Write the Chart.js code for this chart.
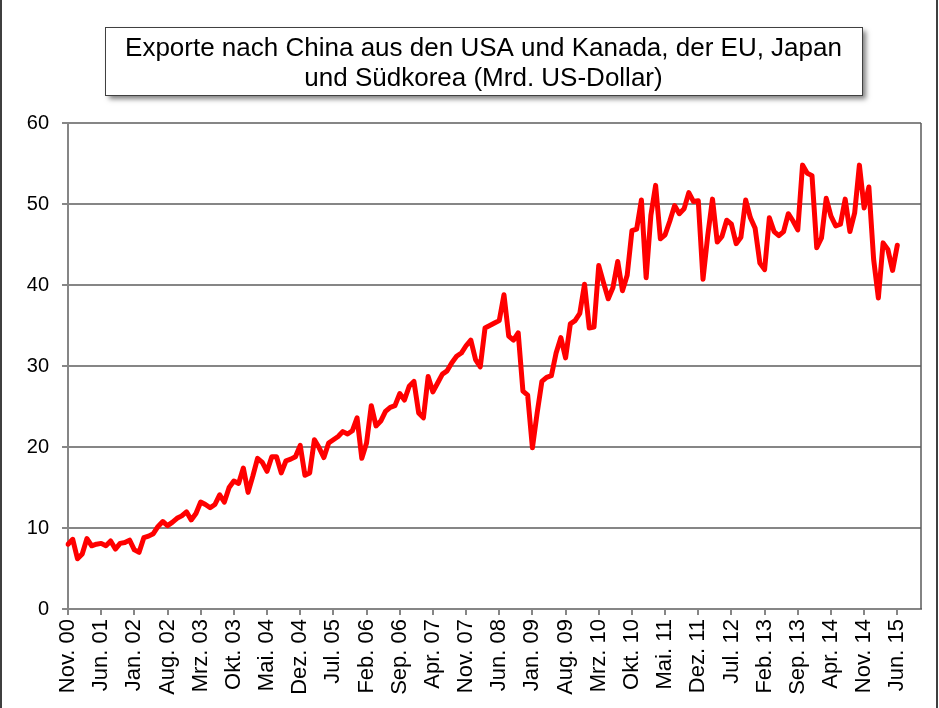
<!DOCTYPE html>
<html>
<head>
<meta charset="utf-8">
<script src="https://cdn.jsdelivr.net/npm/chart.js@4/dist/chart.umd.min.js"></script>
<style>
  html, body { margin: 0; padding: 0; background: #ffffff; }
  #c { display: block; }
</style>
</head>
<body>
<canvas id="c" width="939" height="708"></canvas>
<script>
// ---- Data ----
const titleLines = ["Exporte nach China aus den USA und Kanada, der EU, Japan", "und Südkorea (Mrd. US-Dollar)"];

const monthNames = ["Jan.", "Feb.", "Mrz.", "Apr.", "Mai.", "Jun.", "Jul.", "Aug.", "Sep.", "Okt.", "Nov.", "Dez."];

// Monthly categories Nov. 2000 ... Nov. 2015 (axis extends a little beyond the data)
const categories = [];
for (let k = 0; k < 181; k++) {
  const m = (10 + k) % 12;
  const yr = 2000 + Math.floor((10 + k) / 12);
  categories.push(monthNames[m] + " " + String(yr % 100).padStart(2, "0"));
}

const tickLabels = ["Nov. 00", "Jun. 01", "Jan. 02", "Aug. 02", "Mrz. 03", "Okt. 03", "Mai. 04", "Dez. 04",
  "Jul. 05", "Feb. 06", "Sep. 06", "Apr. 07", "Nov. 07", "Jun. 08", "Jan. 09", "Aug. 09", "Mrz. 10",
  "Okt. 10", "Mai. 11", "Dez. 11", "Jul. 12", "Feb. 13", "Sep. 13", "Apr. 14", "Nov. 14", "Jun. 15"];

const yTicks = [0, 10, 20, 30, 40, 50, 60];

// Exports to China (bn US$), Nov. 2000 - Jun. 2015
const exportsToChina = [
  8.0, 8.6, 6.2, 6.8, 8.7, 7.8, 8.0, 8.1, 7.8, 8.4,
  7.4, 8.1, 8.2, 8.5, 7.3, 7.0, 8.8, 9.0, 9.3, 10.2,
  10.8, 10.3, 10.7, 11.2, 11.5, 12.0, 11.0, 11.8, 13.2, 12.9,
  12.5, 12.9, 14.1, 13.2, 15.0, 15.8, 15.5, 17.4, 14.4, 16.4,
  18.6, 18.1, 17.0, 18.8, 18.8, 16.8, 18.3, 18.5, 18.8, 20.2,
  16.5, 16.8, 20.9, 19.9, 18.7, 20.5, 20.9, 21.3, 21.9, 21.6,
  22.0, 23.6, 18.6, 20.5, 25.1, 22.6, 23.2, 24.4, 24.9, 25.1,
  26.6, 25.8, 27.5, 28.1, 24.2, 23.6, 28.7, 26.8, 27.9, 29.0,
  29.4, 30.4, 31.2, 31.6, 32.5, 33.2, 30.8, 29.9, 34.7, 35.0,
  35.3, 35.6, 38.8, 33.7, 33.2, 34.1, 26.9, 26.4, 19.9, 24.2,
  28.1, 28.6, 28.8, 31.6, 33.5, 31.0, 35.2, 35.6, 36.5, 40.1,
  34.7, 34.8, 42.4, 40.3, 38.3, 39.7, 42.9, 39.3, 41.2, 46.7,
  46.9, 50.5, 40.9, 48.6, 52.3, 45.7, 46.2, 47.9, 49.8, 48.8,
  49.4, 51.4, 50.3, 50.4, 40.7, 46.1, 50.6, 45.3, 46.0, 48.0,
  47.5, 45.1, 45.9, 50.5, 48.3, 47.0, 42.7, 41.9, 48.3, 46.6,
  46.1, 46.6, 48.8, 47.9, 46.8, 54.8, 53.8, 53.5, 44.6, 45.8,
  50.7, 48.5, 47.3, 47.5, 50.6, 46.6, 48.9, 54.8, 49.5, 52.1,
  43.2, 38.4, 45.2, 44.4, 41.8, 44.9
];

const FONT = "'Liberation Sans', Arial, Helvetica, sans-serif";
const AXIS_GRAY = "#868686";

const decorPlugin = {
  id: "decor",
  afterDraw(chart) {
    const ctx = chart.ctx;
    const a = chart.chartArea;
    ctx.save();
    // plot-area right border
    ctx.strokeStyle = "#5a5a5a";
    ctx.lineWidth = 1.5;
    ctx.beginPath();
    ctx.moveTo(a.right, a.top);
    ctx.lineTo(a.right, a.bottom);
    ctx.stroke();

    // outer chart frame (left / right)
    ctx.strokeStyle = "#000000";
    ctx.lineWidth = 1.5;
    ctx.beginPath();
    ctx.moveTo(1, 0); ctx.lineTo(1, 708);
    ctx.moveTo(937, 0); ctx.lineTo(937, 708);
    ctx.stroke();

    // title box with shadow
    const bx = 105, by = 27, bw = 757, bh = 68;
    ctx.shadowColor = "rgba(0,0,0,0.5)";
    ctx.shadowBlur = 5;
    ctx.shadowOffsetX = 4;
    ctx.shadowOffsetY = 4;
    ctx.fillStyle = "#ffffff";
    ctx.fillRect(bx, by, bw, bh);
    ctx.shadowColor = "rgba(0,0,0,0)";
    ctx.shadowBlur = 0;
    ctx.shadowOffsetX = 0;
    ctx.shadowOffsetY = 0;
    ctx.strokeStyle = "#404040";
    ctx.lineWidth = 1;
    ctx.strokeRect(bx + 0.5, by + 0.5, bw, bh);

    ctx.fillStyle = "#000000";
    ctx.font = "26px " + FONT;
    ctx.textAlign = "center";
    ctx.textBaseline = "alphabetic";
    ctx.fillText(titleLines[0], bx + bw / 2, 56);
    ctx.fillText(titleLines[1], bx + bw / 2, 86);
    ctx.restore();
  }
};

new Chart(document.getElementById("c"), {
  type: "line",
  data: {
    labels: categories,
    datasets: [{
      label: "Exporte nach China",
      data: exportsToChina,
      borderColor: "#FF0000",
      backgroundColor: "#FF0000",
      borderWidth: 5,
      pointRadius: 0,
      tension: 0,
      fill: false,
      borderJoinStyle: "round",
      borderCapStyle: "round"
    }]
  },
  options: {
    responsive: false,
    devicePixelRatio: 1,
    animation: false,
    layout: { padding: { left: 8, top: 123, right: 18, bottom: 4 } },
    plugins: { legend: { display: false }, tooltip: { enabled: false }, title: { display: false } },
    scales: {
      x: {
        type: "category",
        offset: false,
        border: { display: true, color: AXIS_GRAY, width: 2 },
        grid: {
          display: true,
          drawOnChartArea: false,
          drawTicks: true,
          tickLength: 6,
          lineWidth: 2,
          color: (c) => (c.index % 7 === 0 ? AXIS_GRAY : "rgba(0,0,0,0)")
        },
        ticks: {
          autoSkip: false,
          minRotation: 90,
          maxRotation: 90,
          padding: 4,
          color: "#000000",
          font: { family: FONT, size: 22 },
          callback: (v, i) => (i % 7 === 0 && tickLabels[i / 7] !== undefined ? tickLabels[i / 7] : "")
        },
        afterFit: (s) => { s.height = 95; s.paddingLeft = 0; s.paddingRight = 0; }
      },
      y: {
        min: 0,
        max: 60,
        border: { display: true, color: AXIS_GRAY, width: 2 },
        grid: { color: AXIS_GRAY, lineWidth: 2, tickLength: 6, drawTicks: true },
        afterBuildTicks: (s) => { s.ticks = yTicks.map(v => ({ value: v })); },
        ticks: {
          padding: 13,
          color: "#000000",
          font: { family: FONT, size: 20 }
        },
        afterFit: (s) => { s.width = 60; s.paddingTop = 0; s.paddingBottom = 0; }
      }
    }
  },
  plugins: [decorPlugin]
});
</script>
</body>
</html>
